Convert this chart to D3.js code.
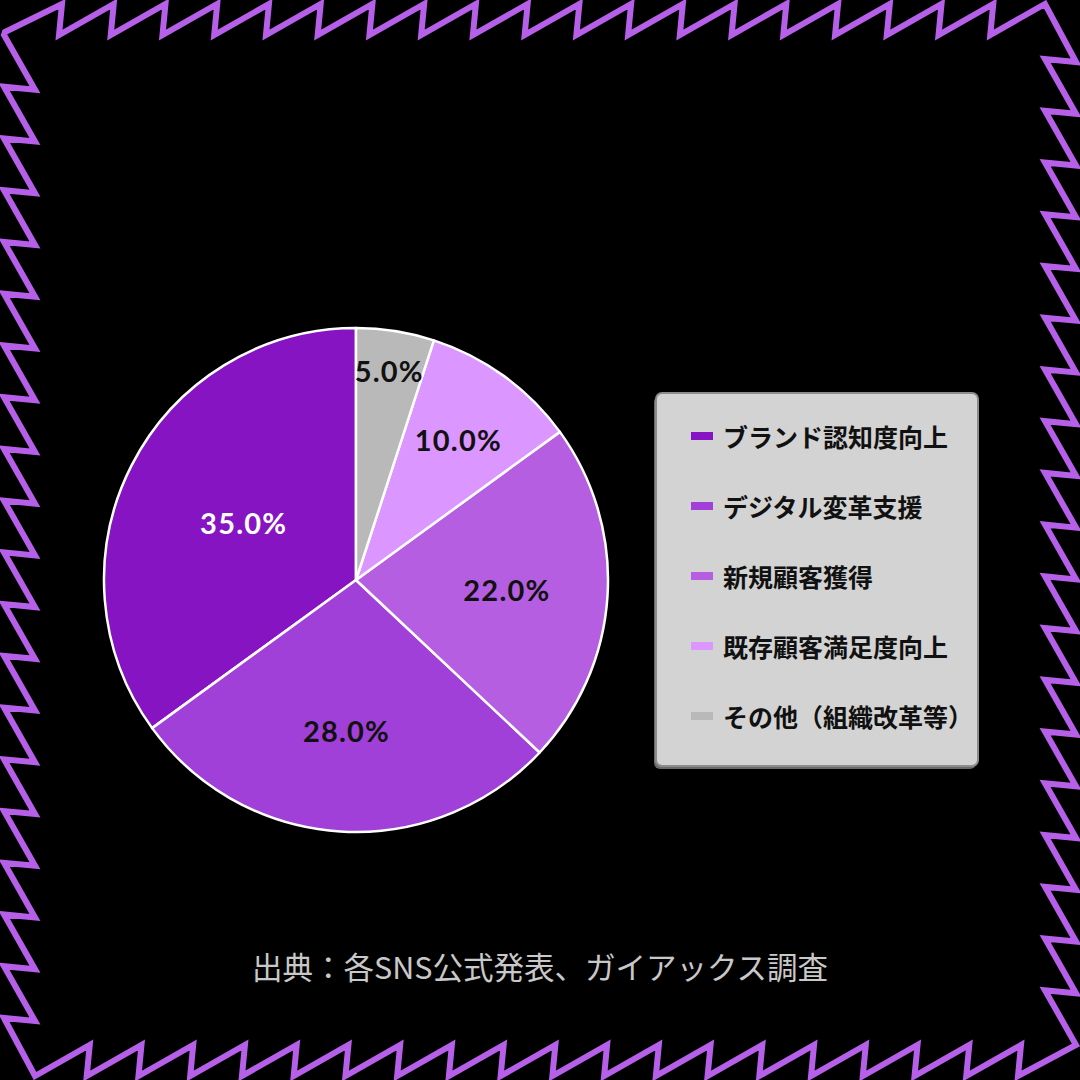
<!DOCTYPE html>
<html>
<head>
<meta charset="utf-8">
<script src="https://cdn.jsdelivr.net/npm/d3@7"></script>
<style>
  html, body { margin: 0; padding: 0; background: #000; }
  svg { display: block; }
</style>
</head>
<body>
<svg id="chart" width="1080" height="1080"></svg>
<script>
const categories = ["ブランド認知度向上", "デジタル変革支援", "新規顧客獲得", "既存顧客満足度向上", "その他（組織改革等）"];
const values = [35.0, 28.0, 22.0, 10.0, 5.0];
const colors = ["#8614c2", "#a040d8", "#b55ee2", "#dc96ff", "#b9b9b9"];
const labelColors = ["#ffffff", "#111111", "#111111", "#111111", "#111111"];
const sourceText = "出典：各SNS公式発表、ガイアックス調査";

const W = 1080, H = 1080;
const svg = d3.select("#chart");
svg.append("rect").attr("width", W).attr("height", H).attr("fill", "#000");

// decorative sawtooth frame
(function frame() {
  const N = 20, o = 4, inn = 35, first = 62;
  const top = [[o + 1, inn - 3]];
  const step = (W - inn - first) / (N - 1);
  for (let k = 0; k < N; k++) {
    const x = first + k * step;
    top.push([x, o]);
    if (k < N - 1) top.push([x - 3, inn]);
  }
  const rot = p => [W - p[1], p[0]];
  let pts = [], side = top;
  for (let s = 0; s < 4; s++) {
    pts = pts.concat(s === 0 ? side : side.slice(1));
    side = side.map(rot);
  }
  svg.append("path")
    .attr("d", d3.line()(pts) + "Z")
    .attr("fill", "none")
    .attr("stroke", "#b65fe8")
    .attr("stroke-width", 6)
    .attr("stroke-linejoin", "miter");
})();

// pie
const cx = 356, cy = 580, R = 252;
const data = categories.map((c, i) => ({ cat: c, value: values[i], color: colors[i], lc: labelColors[i] }));
const pie = d3.pie().sort(null).value(d => d.value).startAngle(2 * Math.PI).endAngle(0);
const arcs = pie(data);
const arc = d3.arc().innerRadius(0).outerRadius(R);
const g = svg.append("g").attr("transform", `translate(${cx},${cy})`);
g.selectAll("path.slice").data(arcs).join("path")
  .attr("class", "slice")
  .attr("d", arc)
  .attr("fill", d => d.data.color)
  .attr("stroke", "#fff")
  .attr("stroke-width", 2.5)
  .attr("stroke-linejoin", "round");

const fmt = d3.format(".1f");
g.selectAll("text.pct").data(arcs).join("text")
  .attr("class", "pct")
  .attr("transform", d => {
    const mid = (d.startAngle + d.endAngle) / 2;
    const half = Math.abs(d.endAngle - d.startAngle) / 2;
    const f = Math.max(1 - Math.sin(half), 0.6 - 0.5 * Math.max(0, half - 0.9));
    const r = R * f;
    return `translate(${r * Math.sin(mid)},${-r * Math.cos(mid)})`;
  })
  .attr("text-anchor", "middle")
  .attr("dominant-baseline", "central")
  .attr("font-family", "Lato, 'Noto Sans', sans-serif")
  .attr("font-weight", 700)
  .attr("font-size", 29)
  .attr("letter-spacing", 1.2)
  .attr("fill", d => d.data.lc)
  .text(d => fmt(d.data.value) + "%");

// legend
const lx = 656, ly = 393, lw = 322, lh = 373;
const leg = svg.append("g");
leg.append("rect").attr("x", lx - 2).attr("y", ly + 3).attr("width", lw).attr("height", lh)
  .attr("rx", 6).attr("fill", "#6a6a6a");
leg.append("rect").attr("x", lx).attr("y", ly).attr("width", lw).attr("height", lh)
  .attr("rx", 6).attr("fill", "#d3d3d3").attr("stroke", "#8c8c8c").attr("stroke-width", 2);
const rowY = d3.scalePoint().domain(categories).range([436, 716]);
const items = leg.selectAll("g.item").data(data).join("g").attr("class", "item")
  .attr("transform", d => `translate(0,${rowY(d.cat)})`);
items.append("rect").attr("x", 691).attr("y", -4).attr("width", 22).attr("height", 8).attr("fill", d => d.color);
items.append("text").attr("x", 723).attr("y", 0)
  .attr("dominant-baseline", "central")
  .attr("font-family", "'Noto Sans CJK JP', sans-serif")
  .attr("font-weight", 700)
  .attr("font-size", 25)
  .attr("fill", "#111")
  .text(d => d.cat);

// source
svg.append("text").attr("x", 540).attr("y", 966)
  .attr("text-anchor", "middle")
  .attr("dominant-baseline", "central")
  .attr("font-family", "'Noto Sans CJK JP', sans-serif")
  .attr("font-size", 30.5)
  .attr("fill", "#c8c8c8")
  .text(sourceText);
</script>
</body>
</html>
